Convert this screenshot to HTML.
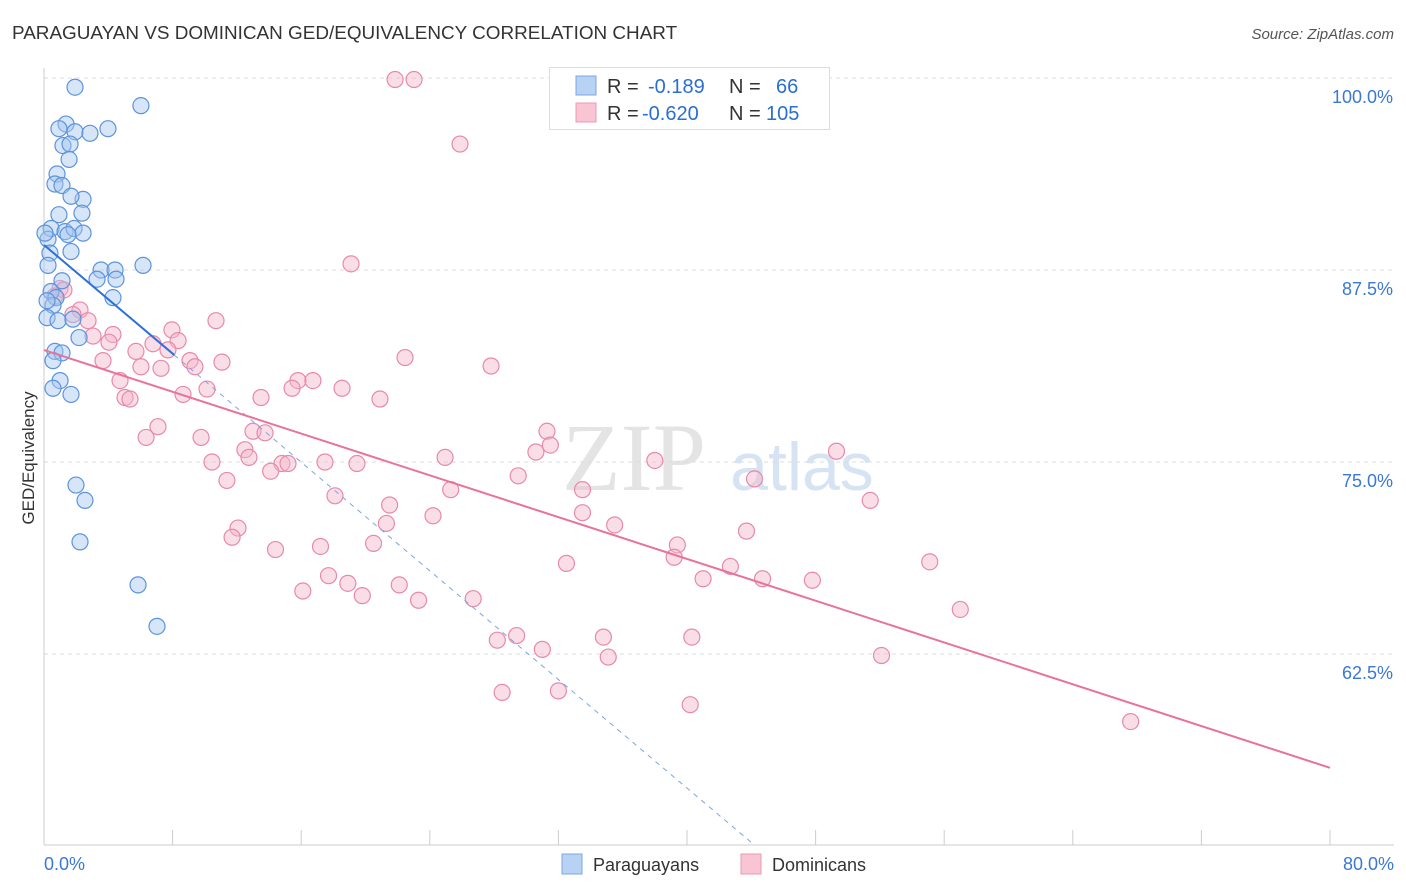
<!DOCTYPE html>
<html><head><meta charset="utf-8"><style>
body{margin:0;background:#fff;font-family:"Liberation Sans",sans-serif;}
svg{display:block}
</style></head><body>
<svg id="c" width="1406" height="892">
<text x="12" y="39" font-size="18.9" fill="#333">PARAGUAYAN VS DOMINICAN GED/EQUIVALENCY CORRELATION CHART</text>
<text x="1394" y="39" font-size="15" fill="#555" text-anchor="end" font-style="italic">Source: ZipAtlas.com</text>
<text x="34" y="458" font-size="17" fill="#333" text-anchor="middle" transform="rotate(-90 34 458)">GED/Equivalency</text>
<text x="634" y="490" font-size="96" fill="#e4e4e4" text-anchor="middle" font-family="Liberation Serif,serif">ZIP</text>
<text x="802" y="490" font-size="68" fill="#d6e3f3" text-anchor="middle">atlas</text>
<g id="grid"></g><g id="marks"></g>
<rect x="549.5" y="67.5" width="280" height="62" fill="#fff" stroke="#ddd"/>
<rect x="576" y="76" width="20" height="19" fill="#b8d2f4" stroke="#7aa8e0"/>
<rect x="576" y="103" width="20" height="19" fill="#f9c4d4" stroke="#eb9ab5"/>
<text font-size="20" fill="#333"><tspan x="607" y="93">R = </tspan><tspan x="648" fill="#2a6fd0">-0.189</tspan><tspan x="729">N = </tspan><tspan x="776" fill="#2a6fd0">66</tspan></text>
<text font-size="20" fill="#333"><tspan x="607" y="120">R = </tspan><tspan x="642" fill="#2a6fd0">-0.620</tspan><tspan x="729">N = </tspan><tspan x="766" fill="#2a6fd0">105</tspan></text>
<rect x="562" y="854" width="20" height="20" fill="#b8d2f4" stroke="#7aa8e0"/>
<text x="593" y="871" font-size="18" fill="#333">Paraguayans</text>
<rect x="741" y="854" width="20" height="20" fill="#f9c4d4" stroke="#eb9ab5"/>
<text x="772" y="871" font-size="18" fill="#333">Dominicans</text>
</svg>
<script>
const yTicks=[100,87.5,75,62.5];
const yTickLabels=["100.0%","87.5%","75.0%","62.5%"];
const xTicks=[0,8,16,24,32,40,48,56,64,72,80];
const xEndLabels=["0.0%","80.0%"];
const blueX=[1.93,6.03,1.37,0.93,1.93,2.86,3.98,1.18,1.62,1.56,0.81,0.68,1.12,2.43,1.68,0.93,2.36,0.44,1.31,1.87,2.43,1.49,0.25,0.37,1.68,0.25,3.55,4.42,6.16,1.12,3.30,4.48,0.44,0.75,4.29,0.56,0.19,0.87,1.80,2.18,0.68,1.12,0.56,1.0,0.56,1.68,1.99,2.55,2.24,5.85,7.03,0.19,0.06];
const blueY=[99.4,98.2,97.0,96.7,96.5,96.4,96.7,95.6,95.7,94.7,93.75,93.1,93.0,92.1,92.3,91.1,91.2,90.2,90.0,90.2,89.9,89.8,89.5,88.6,88.7,87.8,87.5,87.5,87.8,86.8,86.9,86.9,86.1,85.7,85.7,85.2,84.4,84.2,84.3,83.1,82.2,82.1,81.6,80.3,79.8,79.4,73.5,72.5,69.8,67.0,64.3,85.5,89.9];
const pinkX=[21.84,23.02,25.88,19.1,1.0,1.24,0.68,2.24,1.8,2.74,10.7,7.96,3.05,4.29,4.04,8.34,6.78,5.72,7.71,22.46,27.81,3.67,6.03,7.28,9.08,9.39,11.07,4.73,15.8,16.73,15.43,18.54,8.65,10.14,5.04,5.35,13.5,20.9,7.09,6.35,9.77,13.0,13.75,31.29,12.5,12.75,30.6,31.5,10.45,14.8,15.18,17.48,19.47,24.95,38.0,49.3,14.1,29.5,11.38,44.2,25.3,33.5,18.1,21.5,51.4,24.2,33.5,21.3,35.5,12.07,43.7,11.7,17.2,20.5,14.4,39.4,39.2,32.5,42.7,55.1,17.7,41.0,44.7,47.8,18.9,22.1,16.1,19.8,23.3,26.7,57.0,29.4,28.2,34.8,40.3,31.0,35.1,52.1,28.5,32.0,40.2,67.6];
const pinkY=[99.9,99.9,95.7,87.9,86.3,86.2,85.8,84.9,84.6,84.2,84.2,83.6,83.2,83.3,82.8,82.9,82.7,82.2,82.3,81.8,81.25,81.6,81.2,81.1,81.6,81.2,81.5,80.3,80.3,80.3,79.8,79.8,79.4,79.75,79.2,79.1,79.2,79.1,77.3,76.6,76.6,77.0,76.9,77.0,75.8,75.3,75.65,76.1,75.0,74.9,74.9,75.0,74.9,75.3,75.1,75.7,74.4,74.1,73.8,73.9,73.2,73.2,72.8,72.2,72.5,71.5,71.7,71.0,70.9,70.7,70.5,70.1,69.5,69.7,69.3,69.6,68.8,68.4,68.2,68.5,67.6,67.4,67.4,67.3,67.1,67.0,66.6,66.3,66.0,66.1,65.4,63.7,63.4,63.6,63.6,62.8,62.3,62.4,60.0,60.1,59.2,58.1];
const blueTrend=[89.13,-0.884];
const pinkTrend=[82.29,-0.340];
const NS="http://www.w3.org/2000/svg";
const sx=v=>44+v*16.075, sy=v=>78+(100-v)*15.36;
function mk(p,t,a){const e=document.createElementNS(NS,t);for(const k in a)e.setAttribute(k,a[k]);p.appendChild(e);return e;}
const g=document.getElementById('grid'), m=document.getElementById('marks');
yTicks.forEach((v,i)=>{
 const l=mk(g,'line',{x1:44,x2:1394,y1:sy(v),y2:sy(v),stroke:'#ddd','stroke-dasharray':'4,4'});
 
 
 const t=mk(g,'text',{x:1393,y:sy(v)+25,'font-size':18,fill:'#3a78d4','text-anchor':'end'});
 t.textContent=yTickLabels[i];
 
 
});
const ax=mk(g,'line',{x1:44,x2:1394,y1:845,y2:845,stroke:'#ccc'});


const ay=mk(g,'line',{x1:44,x2:44,y1:68,y2:845,stroke:'#ccc'});


xTicks.forEach(v=>{const l=mk(g,'line',{x1:sx(v),x2:sx(v),y1:830,y2:845,stroke:'#ccc'});
 
 });
[[0,'start',xEndLabels[0]],[80,'end',xEndLabels[1]]].forEach(([v,a,s])=>{
 const t=mk(g,'text',{x:sx(v)+(a=='end'?64:0),y:870,'font-size':18,fill:'#3a78d4','text-anchor':a});t.textContent=s;
 
 });
function dots(X,Y,fill,stroke,name){X.forEach((x,i)=>{const c=mk(m,'circle',{cx:sx(x),cy:sy(Y[i]),r:8,fill:fill,'fill-opacity':0.45,stroke:stroke,'stroke-width':1.2});
 
 });}
dots(pinkX,pinkY,'#f5b5ca','#e889a9','dominican-point');
dots(blueX,blueY,'#a5c6f0','#5c94da','paraguayan-point');
let l1=mk(m,'line',{x1:sx(0),y1:sy(blueTrend[0]),x2:sx(8.1),y2:sy(blueTrend[0]+blueTrend[1]*8.1),stroke:'#2e70d6','stroke-width':2});


const xe=(blueTrend[0]-50.1)/-blueTrend[1];
let l2=mk(m,'line',{x1:sx(8.1),y1:sy(blueTrend[0]+blueTrend[1]*8.1),x2:sx(xe),y2:sy(blueTrend[0]+blueTrend[1]*xe),stroke:'#7aa6e0','stroke-width':1,'stroke-dasharray':'5,5'});


let l3=mk(m,'line',{x1:sx(0),y1:sy(pinkTrend[0]),x2:sx(80),y2:sy(pinkTrend[0]+pinkTrend[1]*80),stroke:'#e8729a','stroke-width':2});


</script>
</body></html>
